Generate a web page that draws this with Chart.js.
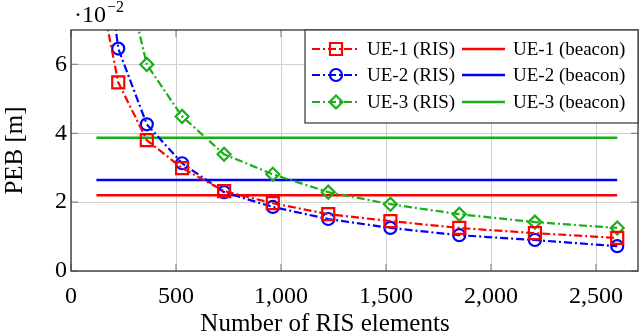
<!DOCTYPE html>
<html>
<head>
<meta charset="utf-8">
<script src="https://cdn.jsdelivr.net/npm/chart.js@4"></script>
<style>
  body { margin: 0; background: #fff; }
</style>
</head>
<body>
<canvas id="chart" width="640" height="336"></canvas>
<script>
// number of RIS elements (x)
const nElements = [121, 225, 361, 529, 729, 961, 1225, 1521, 1849, 2209, 2601];
// PEB [m] with RIS
const ue1Ris = [0.087, 0.0548, 0.0380, 0.0299, 0.0232, 0.0197, 0.0165, 0.0145, 0.0125, 0.0110, 0.0096];
const ue2Ris = [0.115, 0.0646, 0.0426, 0.0313, 0.0229, 0.0186, 0.0151, 0.0125, 0.0104, 0.0090, 0.0072];
const ue3Ris = [0.160, 0.0950, 0.0600, 0.0449, 0.0339, 0.0281, 0.0229, 0.0194, 0.0165, 0.0142, 0.0125];
// PEB [m] with beacon (constant)
const ue1Beacon = 0.0220;
const ue2Beacon = 0.0264;
const ue3Beacon = 0.0387;
const xTicks = [0, 500, 1000, 1500, 2000, 2500];
const yTicks = [0, 0.02, 0.04, 0.06];

const RED = '#ff0000', BLUE = '#0000ff', GREEN = '#17b017';
const dashDot = [8, 3, 2, 3];

Chart.defaults.font.family = "'Liberation Serif', 'DejaVu Serif', serif";
Chart.defaults.color = '#000';

function pts(ys) { return nElements.map((x, i) => ({ x: x, y: ys[i] })); }
function flat(v) { return [{ x: nElements[0], y: v }, { x: nElements[nElements.length - 1], y: v }]; }

function risSet(label, ys, color, style, r) {
    return {
        label: label, data: pts(ys),
        borderColor: color, borderWidth: 2.2, borderDash: dashDot,
        pointStyle: style, pointRadius: r, pointBorderWidth: 2.2,
        pointBorderColor: color, pointBackgroundColor: 'rgba(0,0,0,0)',
        tension: 0
    };
}
function beaconSet(label, v, color) {
    return { label: label, data: flat(v), borderColor: color, borderWidth: 2.5, pointRadius: 0 };
}

const datasets = [
    risSet('UE-1 (RIS)', ue1Ris, RED, 'rect', 8.5),
    risSet('UE-2 (RIS)', ue2Ris, BLUE, 'circle', 6),
    risSet('UE-3 (RIS)', ue3Ris, GREEN, 'rectRot', 6.5),
    beaconSet('UE-1 (beacon)', ue1Beacon, RED),
    beaconSet('UE-2 (beacon)', ue2Beacon, BLUE),
    beaconSet('UE-3 (beacon)', ue3Beacon, GREEN)
];

// frame, inner tick marks, exponent label, x label and the two-column legend box
const extras = {
    id: 'extras',
    beforeDatasetsDraw(chart) {
        const ctx = chart.ctx, a = chart.chartArea;
        const sx = chart.scales.x, sy = chart.scales.y;
        ctx.save();
        ctx.strokeStyle = '#8a8a8a';
        ctx.lineWidth = 1.2;
        ctx.beginPath();
        xTicks.forEach(v => {
            const px = sx.getPixelForValue(v);
            ctx.moveTo(px, a.bottom); ctx.lineTo(px, a.bottom - 7);
            ctx.moveTo(px, a.top); ctx.lineTo(px, a.top + 7);
        });
        yTicks.forEach(v => {
            const py = sy.getPixelForValue(v);
            ctx.moveTo(a.left, py); ctx.lineTo(a.left + 7, py);
            ctx.moveTo(a.right, py); ctx.lineTo(a.right - 7, py);
        });
        ctx.stroke();
        ctx.restore();
    },
    afterDatasetsDraw(chart) {
        const ctx = chart.ctx, a = chart.chartArea;
        ctx.save();
        ctx.strokeStyle = '#333';
        ctx.lineWidth = 1.3;
        ctx.strokeRect(a.left, a.top, a.right - a.left, a.bottom - a.top);

        // ·10^-2
        ctx.fillStyle = '#000';
        ctx.textBaseline = 'alphabetic';
        ctx.font = "24px 'Liberation Serif'";
        ctx.fillText('\u00b710', 74, 22);
        const w = ctx.measureText('\u00b710').width;
        ctx.font = "16px 'Liberation Serif'";
        ctx.fillText('\u22122', 74 + w + 1, 12);

        // x axis label (sits left of the axis centre in the original)
        ctx.font = "25px 'Liberation Serif'";
        ctx.textAlign = 'center';
        ctx.fillText('Number of RIS elements', 325, 331);
        ctx.textAlign = 'left';

        // legend
        const bx = 305, by = a.top, bw = a.right - bx, bh = 93;
        ctx.fillStyle = '#fff';
        ctx.fillRect(bx, by, bw, bh);
        ctx.strokeStyle = '#333';
        ctx.lineWidth = 1.2;
        ctx.strokeRect(bx, by, bw, bh);
        ctx.font = "19px 'Liberation Serif'";
        ctx.textBaseline = 'middle';
        const rows = [49, 75, 102];
        for (let i = 0; i < 3; i++) {
            const ris = chart.data.datasets[i], bea = chart.data.datasets[i + 3];
            const y = rows[i];
            ctx.strokeStyle = ris.borderColor;
            ctx.lineWidth = 2.2;
            ctx.setLineDash(dashDot);
            ctx.beginPath(); ctx.moveTo(312, y); ctx.lineTo(360, y); ctx.stroke();
            ctx.setLineDash([]);
            ctx.fillStyle = 'rgba(0,0,0,0)';
            Chart.helpers.drawPoint(ctx, {
                pointStyle: ris.pointStyle, radius: ris.pointRadius, borderWidth: 2.2, rotation: 0
            }, 336, y);
            ctx.fillStyle = '#000';
            ctx.fillText(ris.label, 367, y + 1);

            ctx.strokeStyle = bea.borderColor;
            ctx.lineWidth = 2.5;
            ctx.beginPath(); ctx.moveTo(462, y); ctx.lineTo(505, y); ctx.stroke();
            ctx.fillText(bea.label, 513, y + 1);
        }
        ctx.restore();
    }
};

new Chart(document.getElementById('chart'), {
    type: 'line',
    data: { datasets: datasets },
    plugins: [extras],
    options: {
        responsive: false,
        animation: false,
        devicePixelRatio: 1,
        layout: { autoPadding: false, padding: { top: 30, right: 2, left: 0, bottom: 0 } },
        plugins: { legend: { display: false }, tooltip: { enabled: false } },
        scales: {
            x: {
                type: 'linear', min: 0, max: 2700,
                afterFit: s => { s.height = 65; s.paddingLeft = 0; s.paddingRight = 0; },
                afterBuildTicks: s => { s.ticks = xTicks.map(v => ({ value: v })); },
                grid: { color: '#d0d0d0', lineWidth: 1, drawTicks: false },
                border: { display: false },
                ticks: {
                    padding: 11, font: { size: 24 },
                    callback: v => v.toLocaleString('en-US')
                },
                title: { display: false }
            },
            y: {
                min: 0, max: 0.07,
                afterFit: s => { s.width = 71; s.paddingTop = 0; s.paddingBottom = 0; },
                afterBuildTicks: s => { s.ticks = yTicks.map(v => ({ value: v })); },
                grid: { color: '#d0d0d0', lineWidth: 1, drawTicks: false },
                border: { display: false },
                ticks: {
                    padding: 4, font: { size: 24 },
                    callback: v => String(Math.round(v * 100))
                },
                title: { display: true, text: 'PEB [m]', font: { size: 25 }, padding: { top: 0, bottom: 0 } }
            }
        }
    }
});
</script>
</body>
</html>
